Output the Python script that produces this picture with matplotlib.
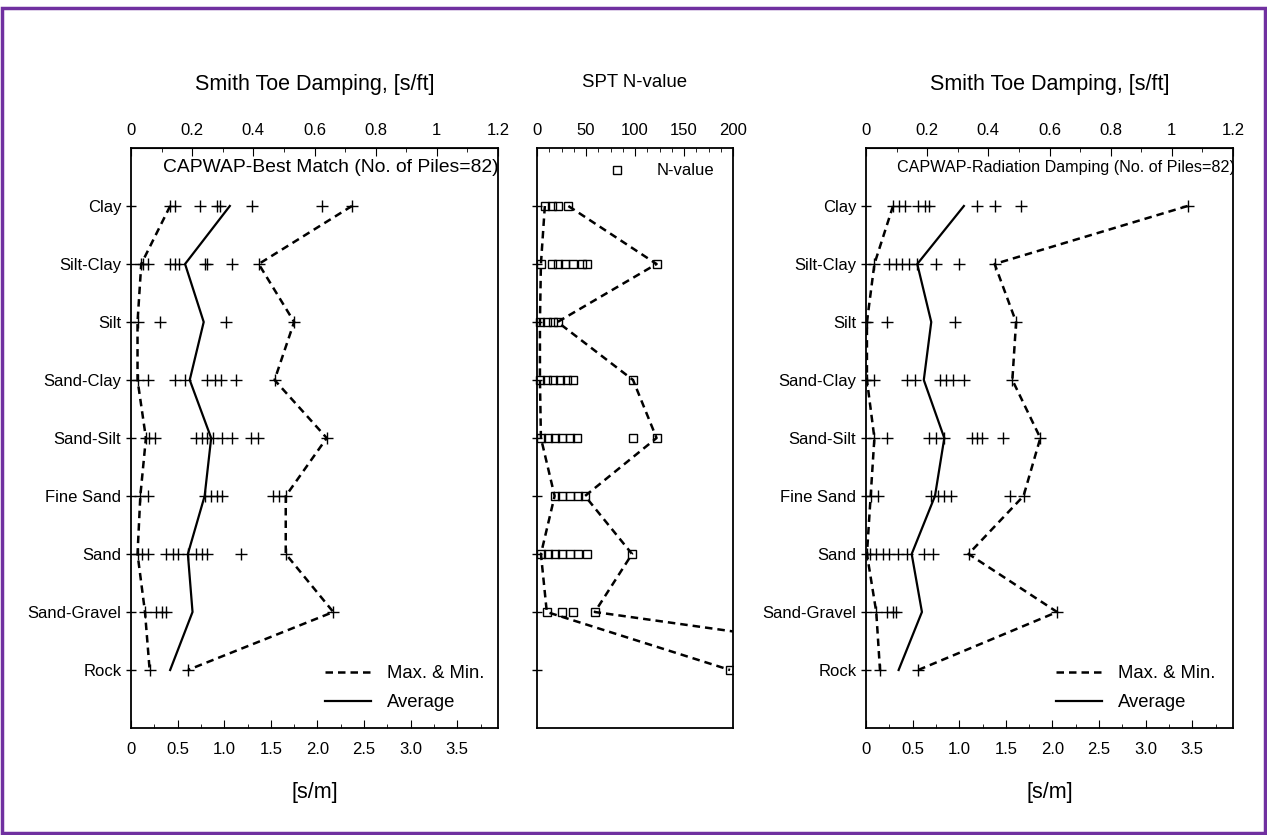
import matplotlib
matplotlib.use("Agg")
import matplotlib.pyplot as plt
from matplotlib.patches import Rectangle
from matplotlib.ticker import MultipleLocator
import numpy as np

plt.rcParams["font.family"] = ["Liberation Sans", "DejaVu Sans"]

# --- data ---
soils = ["Clay", "Silt-Clay", "Silt", "Sand-Clay", "Sand-Silt",
         "Fine Sand", "Sand", "Sand-Gravel", "Rock"]

# CAPWAP best match, toe damping per pile [s/m]
best_vals = [
    [0.42, 0.47, 0.74, 0.92, 0.95, 1.30, 2.05, 2.37],
    [0.11, 0.13, 0.18, 0.42, 0.47, 0.52, 0.79, 0.82, 1.08, 1.37],
    [0.07, 0.31, 1.02, 1.75],
    [0.07, 0.18, 0.47, 0.58, 0.82, 0.90, 0.97, 1.13, 1.54],
    [0.16, 0.19, 0.26, 0.70, 0.76, 0.81, 0.88, 0.98, 1.08, 1.29, 1.36, 2.10],
    [0.10, 0.18, 0.79, 0.86, 0.92, 0.98, 1.52, 1.59, 1.66],
    [0.07, 0.12, 0.18, 0.38, 0.45, 0.50, 0.61, 0.70, 0.76, 0.82, 1.18, 1.66],
    [0.15, 0.27, 0.33, 0.38, 2.17],
    [0.20, 0.61],
]
best_avg = [1.06, 0.58, 0.78, 0.63, 0.86, 0.79, 0.61, 0.66, 0.42]

# SPT N-values
spt_vals = [
    [8, 15, 21, 32],
    [4, 15, 21, 29, 37, 46, 51, 122],
    [3, 10, 16, 21],
    [3, 10, 16, 23, 31, 37, 98],
    [4, 11, 18, 26, 34, 41, 98, 122],
    [18, 26, 34, 42, 49],
    [4, 11, 18, 26, 34, 42, 51, 97],
    [10, 26, 37, 59],
    [197, 480],
]

# CAPWAP radiation damping, toe damping per pile [s/m]
rad_vals = [
    [0.29, 0.35, 0.42, 0.56, 0.63, 0.68, 1.19, 1.38, 1.66, 3.45],
    [0.09, 0.25, 0.32, 0.39, 0.46, 0.55, 0.75, 1.00, 1.38],
    [0.01, 0.22, 0.95, 1.61],
    [0.01, 0.09, 0.44, 0.53, 0.79, 0.86, 0.93, 1.05, 1.57],
    [0.09, 0.22, 0.68, 0.75, 0.84, 1.14, 1.19, 1.24, 1.47, 1.87],
    [0.05, 0.13, 0.70, 0.77, 0.84, 0.91, 1.55, 1.69],
    [0.01, 0.04, 0.11, 0.18, 0.25, 0.34, 0.44, 0.62, 0.72, 1.10],
    [0.11, 0.23, 0.29, 0.32, 2.05],
    [0.15, 0.56],
]
rad_avg = [1.05, 0.55, 0.70, 0.62, 0.84, 0.74, 0.49, 0.60, 0.35]

FT = 3.2808  # s/ft -> s/m
ypos = np.arange(len(soils))

fig = plt.figure(figsize=(12.67, 8.35), dpi=100)
W, H = 1267, 835


def box(x0, x1):
    return [x0 / W, 1 - 728 / H, (x1 - x0) / W, 580 / H]


def style_common(ax):
    ax.set_ylim(len(soils), -1)
    ax.set_yticks(ypos)
    for s in ax.spines.values():
        s.set_linewidth(1.3)
    ax.tick_params(axis="y", direction="inout", length=7, width=1)


def damping_panel(ax, vals, avg, note, note_fs, leg_x):
    style_common(ax)
    ax.set_yticklabels(soils, fontsize=12)
    ax.set_xlim(0, 1.2 * FT)
    for i, v in enumerate(vals):
        ax.plot(v, [i] * len(v), "k+", ms=8, mew=1.0, ls="none")
    mins = [min(v) for v in vals]
    maxs = [max(v) for v in vals]
    ax.plot(mins, ypos, "k--", lw=1.8, dashes=(3, 2))
    ax.plot(maxs, ypos, "k--", lw=1.8, dashes=(3, 2), label="Max. & Min.")
    ax.plot(avg, ypos, "k-", lw=1.6, label="Average")
    ax.xaxis.set_minor_locator(MultipleLocator(0.25))
    ax.set_xticks(np.arange(0, 3.6, 0.5))
    ax.set_xticklabels(["0", "0.5", "1.0", "1.5", "2.0", "2.5", "3.0", "3.5"],
                       fontsize=12)
    ax.tick_params(axis="x", which="major", direction="in", length=6, pad=10)
    ax.tick_params(axis="x", which="minor", direction="in", length=3)
    ax.set_xlabel("[s/m]", fontsize=15.5, labelpad=18)
    top = ax.secondary_xaxis("top", functions=(lambda x: x / FT, lambda x: x * FT))
    top.set_xticks([0, 0.2, 0.4, 0.6, 0.8, 1.0, 1.2])
    top.set_xticklabels(["0", "0.2", "0.4", "0.6", "0.8", "1", "1.2"], fontsize=12)
    top.xaxis.set_minor_locator(MultipleLocator(0.1))
    top.tick_params(which="major", direction="in", length=6, pad=7)
    top.tick_params(which="minor", direction="in", length=3)
    top.set_xlabel("Smith Toe Damping, [s/ft]", fontsize=15.5, labelpad=24)
    ax.text(0.545, 0.966, note, transform=ax.transAxes, ha="center", va="center",
            fontsize=note_fs)
    ax.legend(loc="lower left", bbox_to_anchor=(leg_x, 0.029), frameon=False,
              fontsize=13.3, handlelength=2.5, handletextpad=0.85,
              labelspacing=0.65, borderpad=0, borderaxespad=0)
    return ax


ax1 = fig.add_axes(box(131, 498))
damping_panel(ax1, best_vals, best_avg, "CAPWAP-Best Match (No. of Piles=82)",
              13.9, 0.528)

ax3 = fig.add_axes(box(866, 1233))
damping_panel(ax3, rad_vals, rad_avg, "CAPWAP-Radiation Damping (No. of Piles=82)",
              11.6, 0.518)

# middle panel: SPT N-value
ax2 = fig.add_axes(box(537, 733))
style_common(ax2)
ax2.set_yticklabels([])
ax2.set_xlim(0, 200)
for i, v in enumerate(spt_vals):
    ax2.plot(v, [i] * len(v), "ks", mfc="none", ms=5.5, mew=1.0, ls="none",
             label="N-value" if i == 0 else None, clip_on=max(v) > 200)
ax2.plot([min(v) for v in spt_vals], ypos, "k--", lw=1.8, dashes=(3, 2))
ax2.plot([max(v) for v in spt_vals], ypos, "k--", lw=1.8, dashes=(3, 2))
ax2.xaxis.tick_top()
ax2.set_xticks([0, 50, 100, 150, 200])
ax2.set_xticklabels(["0", "50", "100", "150", "200"], fontsize=12)
ax2.xaxis.set_minor_locator(MultipleLocator(12.5))
ax2.tick_params(axis="x", which="major", direction="in", length=6, pad=7)
ax2.tick_params(axis="x", which="minor", direction="in", length=3)
ax2.xaxis.set_label_position("top")
ax2.set_xlabel("SPT N-value", fontsize=13.4, labelpad=26)
ax2.legend(loc="upper right", frameon=False, fontsize=12, handletextpad=1.4,
           bbox_to_anchor=(0.94, 0.985), borderaxespad=0)

# purple frame round the picture
fig.patches.append(Rectangle((2 / W, 2 / H), 1 - 4 / W, 1 - 10 / H,
                             transform=fig.transFigure, fill=False,
                             edgecolor="#7030a0", linewidth=2.5))

fig.savefig("out.png", dpi=100, facecolor="white")
